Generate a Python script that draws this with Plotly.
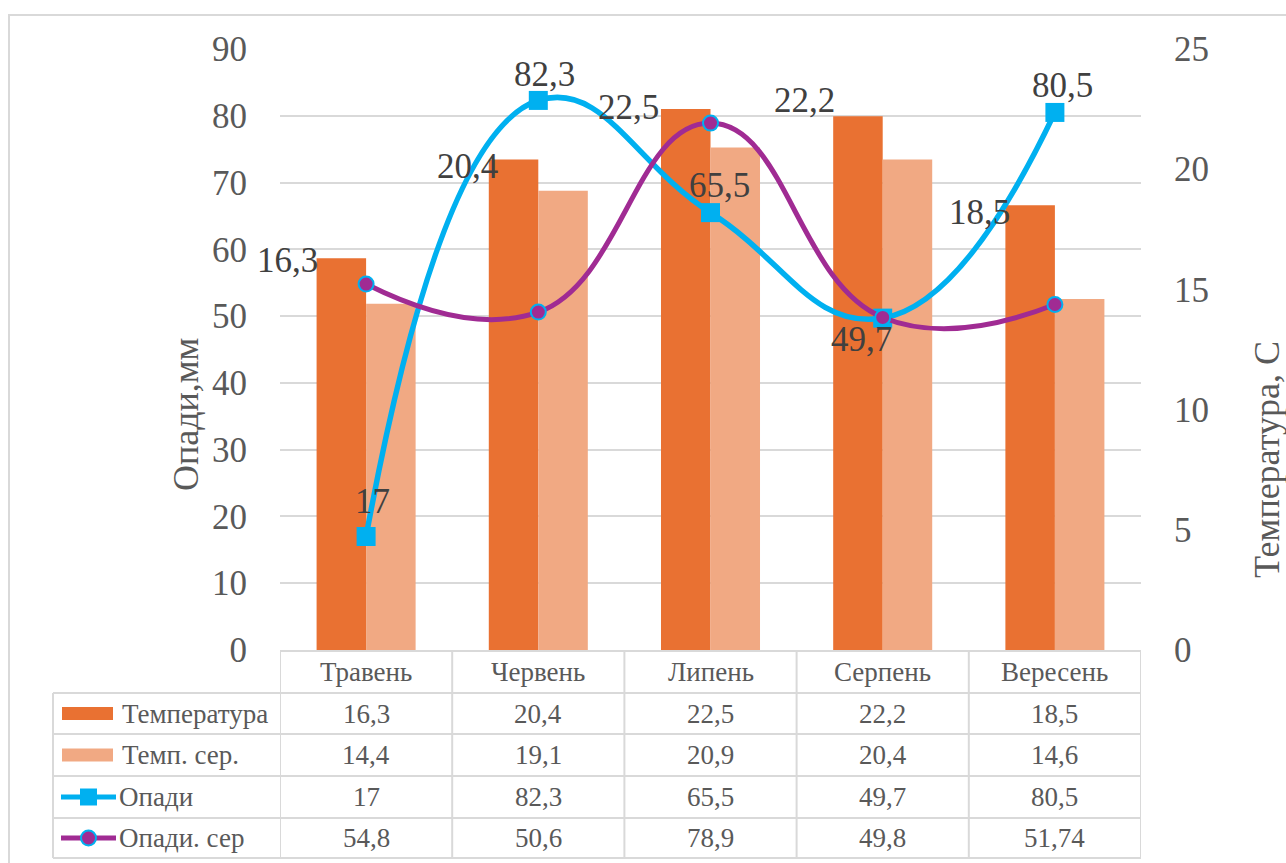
import plotly.graph_objects as go

# ---- data ----
months = ["Травень", "Червень", "Липень", "Серпень", "Вересень"]
temperature = [16.3, 20.4, 22.5, 22.2, 18.5]
temp_avg = [14.4, 19.1, 20.9, 20.4, 14.6]
precip = [17, 82.3, 65.5, 49.7, 80.5]
precip_avg = [54.8, 50.6, 78.9, 49.8, 51.74]

series_names = ["Температура", "Темп. сер.", "Опади", "Опади. сер"]
precip_ticks = [0, 10, 20, 30, 40, 50, 60, 70, 80, 90]
temp_ticks = [0, 5, 10, 15, 20, 25]

C_TEMP = "#E97132"
C_TAVG = "#F1A983"
C_PREC = "#00B0F0"
C_PAVG = "#A02B93"
GRID = "#D9D9D9"
TXT = "#595959"
LBL = "#404040"
FONT = "Liberation Serif"
TABLE_SIZE = 27

W, H = 1286, 863
L, R, T, B = 280, 1141, 49, 650  # plot area in pixels


def px(x):
    return (x - L) / (R - L)


def py(y):
    return (B - y) / (B - T)


def fmt(v):
    return f"{v:g}".replace(".", ",")


fig = go.Figure()

# temperature bars on the right-hand axis
fig.add_trace(go.Bar(x=months, y=temperature, name=series_names[0],
                     marker=dict(color=C_TEMP, line=dict(width=0)), yaxis="y"))
fig.add_trace(go.Bar(x=months, y=temp_avg, name=series_names[1],
                     marker=dict(color=C_TAVG, line=dict(width=0)), yaxis="y"))

# precipitation lines on the left-hand axis (overlay, drawn above the bars)
fig.add_trace(go.Scatter(x=months, y=precip, name=series_names[2], yaxis="y2",
                         mode="lines+markers",
                         line=dict(color=C_PREC, width=5.5, shape="spline", smoothing=1.3),
                         marker=dict(symbol="square", size=19, color=C_PREC)))
fig.add_trace(go.Scatter(x=months, y=precip_avg, name=series_names[3], yaxis="y2",
                         mode="lines+markers",
                         line=dict(color=C_PAVG, width=5, shape="spline", smoothing=1.3),
                         marker=dict(symbol="circle", size=15, color=C_PAVG,
                                     line=dict(color=C_PREC, width=2))))

annotations = []


def note(**kw):
    kw.setdefault("showarrow", False)
    kw.setdefault("xanchor", "center")
    kw.setdefault("yanchor", "middle")
    annotations.append(kw)


# value labels for temperature bars
temp_shift = [(-79, -2), (-71, -7), (-82, 2), (-78, 16), (-75, -7)]
for m, v, (dx, dy) in zip(months, temperature, temp_shift):
    note(x=m, y=v, xref="x", yref="y", text=fmt(v), xshift=dx, yshift=dy,
         font=dict(family=FONT, size=35, color=LBL))

# value labels for precipitation
prec_shift = [(6, 35), (6, 26), (9, 27), (-21, -21), (8, 27)]
for m, v, (dx, dy) in zip(months, precip, prec_shift):
    note(x=m, y=v, xref="x", yref="y2", text=fmt(v), xshift=dx, yshift=dy,
         font=dict(family=FONT, size=35, color=LBL))

# axis titles
note(x=px(186), y=py(415), xref="paper", yref="paper", text="Опади,мм", textangle=-90,
     font=dict(family=FONT, size=36, color=TXT))
note(x=px(1267), y=py(460), xref="paper", yref="paper", text="Температура, С", textangle=-90,
     font=dict(family=FONT, size=36, color=TXT))

# ---- data table under the plot ----
row_edges = [651, 693, 734, 776, 818, 858]
row_centers = [(a + b) / 2 for a, b in zip(row_edges[:-1], row_edges[1:])]
table_left = 53
shapes = []
line_style = dict(color=GRID, width=2)

# outer chart border
shapes.append(dict(type="rect", xref="paper", yref="paper",
                   x0=px(9), x1=px(1300), y0=py(880), y1=py(15),
                   line=dict(color=GRID, width=2), fillcolor="rgba(0,0,0,0)", layer="below"))

# horizontal rules
shapes.append(dict(type="line", xref="paper", yref="paper", x0=0, x1=1,
                   y0=py(row_edges[0]), y1=py(row_edges[0]), line=line_style))
for ye in row_edges[1:]:
    shapes.append(dict(type="line", xref="paper", yref="paper", x0=px(table_left), x1=1,
                       y0=py(ye), y1=py(ye), line=line_style))
# vertical rules at category boundaries
for k in range(len(months) + 1):
    shapes.append(dict(type="line", xref="x", yref="paper", x0=k - 0.5, x1=k - 0.5,
                       y0=py(row_edges[0]), y1=py(row_edges[-1]), line=line_style))
shapes.append(dict(type="line", xref="paper", yref="paper", x0=px(table_left), x1=px(table_left),
                   y0=py(row_edges[1]), y1=py(row_edges[-1]), line=line_style))

# month header row
for i, m in enumerate(months):
    note(x=i, y=py(row_centers[0]), xref="x", yref="paper", text=m,
         font=dict(family=FONT, size=TABLE_SIZE, color=TXT))

# series rows
rows = [temperature, temp_avg, precip, precip_avg]
for r, vals in enumerate(rows):
    yc = row_centers[r + 1]
    for i, v in enumerate(vals):
        note(x=i, y=py(yc), xref="x", yref="paper", text=fmt(v),
             font=dict(family=FONT, size=TABLE_SIZE, color=TXT))
    text_x = 120 if r < 2 else 117
    note(x=px(text_x), y=py(yc), xref="paper", yref="paper", text=series_names[r],
         xanchor="left", font=dict(family=FONT, size=TABLE_SIZE, color=TXT))

# legend keys in the table
for r, col in enumerate([C_TEMP, C_TAVG]):
    yc = row_centers[r + 1]
    shapes.append(dict(type="rect", xref="paper", yref="paper",
                       x0=px(62), x1=px(113), y0=py(yc + 6.5), y1=py(yc - 6.5),
                       fillcolor=col, line=dict(width=0)))
yc = row_centers[3]
shapes.append(dict(type="line", xref="paper", yref="paper", x0=px(61), x1=px(116),
                   y0=py(yc), y1=py(yc), line=dict(color=C_PREC, width=5)))
shapes.append(dict(type="rect", xref="paper", yref="paper",
                   x0=px(80), x1=px(97), y0=py(yc + 8.5), y1=py(yc - 8.5),
                   fillcolor=C_PREC, line=dict(width=0)))
yc = row_centers[4]
shapes.append(dict(type="line", xref="paper", yref="paper", x0=px(61), x1=px(116),
                   y0=py(yc), y1=py(yc), line=dict(color=C_PAVG, width=5)))
shapes.append(dict(type="circle", xref="paper", yref="paper",
                   x0=px(81), x1=px(96), y0=py(yc + 7.5), y1=py(yc - 7.5),
                   fillcolor=C_PAVG, line=dict(color=C_PREC, width=2)))

fig.update_layout(
    width=W, height=H,
    margin=dict(l=L, r=W - R, t=T, b=H - B, pad=0),
    paper_bgcolor="white", plot_bgcolor="white",
    showlegend=False,
    barmode="group", bargap=0.425, bargroupgap=0,
    font=dict(family=FONT, color=TXT),
    xaxis=dict(type="category", range=[-0.5, len(months) - 0.5], showticklabels=False,
               showgrid=False, zeroline=False, showline=False, ticks=""),
    yaxis=dict(side="right", range=[0, 25], tickvals=temp_ticks, showgrid=False,
               zeroline=False, showline=False, ticks="", ticklabelstandoff=32,
               tickfont=dict(family=FONT, size=35, color=TXT)),
    yaxis2=dict(side="left", overlaying="y", range=[0, 90], tickvals=precip_ticks,
                showgrid=True, gridcolor=GRID, gridwidth=2, zeroline=False, showline=False,
                ticks="", ticklabelstandoff=32,
                tickfont=dict(family=FONT, size=35, color=TXT)),
    shapes=shapes,
    annotations=annotations,
)

fig.write_html("out.html")
